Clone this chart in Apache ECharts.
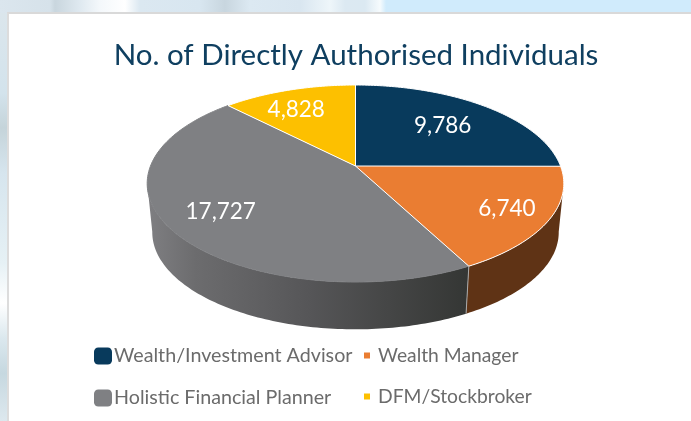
<!DOCTYPE html>
<html>
<head>
<meta charset="utf-8">
<script src="https://cdn.jsdelivr.net/npm/echarts@6/dist/echarts.min.js"></script>
<style>
    html, body { margin: 0; padding: 0; width: 691px; height: 421px; overflow: hidden; }
    #stripTop {
        position: absolute; left: 0; top: 0; width: 691px; height: 13px;
        background: linear-gradient(90deg, #dbe6ee 0, #d6e2ea 50px, #c9d6de 55px, #dfe9f0 80px, #f4f8fb 100px, #ffffff 125px, #dbe8f1 140px,
            #d8e6f0 200px, #c8d6df 225px, #dce9f2 250px, #d9e6f0 300px, #eef6fa 330px, #dce9f2 345px, #dbe9f2 365px, #f6fbfd 380px, #d0ebfc 386px, #d0ebfc 691px);
    }
    #stripLeft {
        position: absolute; left: 0; top: 13px; width: 8px; height: 408px;
        background: linear-gradient(180deg, #dbe6ec 0, #d3e3ec 80px, #c5d4da 115px, #d6e5ee 160px, #e6f1f5 250px, #ffffff 290px, #dbe8ee 325px, #c6d8e0 360px, #dde8ee 408px);
    }
    #card { position: absolute; left: 7px; top: 12px; width: 684px; height: 409px; background: #fff; border-left: 2px solid #dcdcdc; border-top: 2px solid #d9d9d9; box-sizing: border-box; }
    #main { position: absolute; left: 0; top: 0; width: 691px; height: 421px; }
</style>
</head>
<body>
<div id="stripTop"></div>
<div id="stripLeft"></div>
<div id="card"></div>
<div id="main"></div>
<script type="text/javascript">
    var chartTitle = 'No. of Directly Authorised Individuals';
    var categories = ['Wealth/Investment Advisor', 'Wealth Manager', 'Holistic Financial Planner', 'DFM/Stockbroker'];
    var values = [9786, 6740, 17727, 4828];
    var valueLabels = ['9,786', '6,740', '17,727', '4,828'];

    var colors = ['#083a5c', '#ea7d32', '#7f8083', '#fdc000'];
    var rimColors = ['#fff', '#fff', '#7f8083', '#fff'];
    // label placement: fraction of the radius, and degrees off the slice's middle
    var labelRadius = [0.65, 0.8, 0.75, 0.73];
    var labelTurn = [0, 0, 0, -4];

    var fontName = 'Lato, "Open Sans", sans-serif';

    // the tilted disc: apex of the slices, half sizes and perspective strength
    var topRim = { cx: 355.5, cy: 166, a: 205, b: 95.4 };
    var bottomRim = { cx: 355.5, cy: 215, a: 200, b: 94 };
    var persp = 0.1777;
    // the rim turns away from the viewer past these angles
    var wallStart = 100;
    var wallEnd = 260;

    var total = values.reduce(function (s, v) { return s + v; }, 0);
    var starts = [];
    var sum = 0;
    values.forEach(function (v) {
        starts.push(sum / total * 360);
        sum += v;
    });

    // degrees clockwise from 12 o'clock, r as a fraction of the radius
    function project(disc, deg, r) {
        var rad = deg * Math.PI / 180;
        var u = Math.sin(rad) * r;
        var v = -Math.cos(rad) * r;
        var w = 1 - persp * v;
        return [disc.cx + disc.a * u / w, disc.cy + disc.b * v / w];
    }

    function arc(disc, from, to) {
        var pts = [];
        var n = Math.max(2, Math.ceil(to - from));
        for (var i = 0; i <= n; i++) {
            pts.push(project(disc, from + (to - from) * i / n, 1));
        }
        return pts;
    }

    var sideFills = [
        null,
        '#5f3315',
        new echarts.graphic.LinearGradient(0, 0, 1, 0, [
            { offset: 0, color: '#7f7f82' },
            { offset: 0.15, color: '#6c6c6e' },
            { offset: 0.5, color: '#565658' },
            { offset: 1, color: '#343634' }
        ]),
        null
    ];

    function renderSlice(params, api) {
        var i = params.seriesIndex;
        var from = starts[i];
        var to = from + api.value(0) / total * 360;
        var children = [];

        var wallFrom = Math.max(from, wallStart);
        var wallTo = Math.min(to, wallEnd);
        if (wallTo > wallFrom) {
            children.push({
                type: 'polygon',
                z2: 1,
                shape: { points: arc(topRim, wallFrom, wallTo).concat(arc(bottomRim, wallFrom, wallTo).reverse()) },
                style: { fill: sideFills[i] }
            });
            if (wallFrom > wallStart) {
                var p1 = project(topRim, wallFrom, 1);
                var p2 = project(bottomRim, wallFrom, 1);
                children.push({
                    type: 'line',
                    z2: 2,
                    shape: { x1: p1[0], y1: p1[1], x2: p2[0], y2: p2[1] },
                    style: { stroke: '#a9a9a9', lineWidth: 1 }
                });
            }
        }

        var rim = arc(topRim, from, to);
        children.push({
            type: 'polygon',
            z2: 3,
            shape: { points: [[topRim.cx, topRim.cy]].concat(rim) },
            style: { fill: colors[i] }
        });
        children.push({
            type: 'polyline',
            z2: 4,
            shape: { points: rim },
            style: { fill: null, stroke: rimColors[i], lineWidth: 1 }
        });
        // white spoke between this slice and the one before it
        children.push({
            type: 'line',
            z2: 5,
            shape: { x1: topRim.cx, y1: topRim.cy, x2: rim[0][0], y2: rim[0][1] },
            style: { stroke: '#fff', lineWidth: 1 }
        });

        var at = project(topRim, (from + to) / 2 + labelTurn[i], labelRadius[i]);
        children.push({
            type: 'text',
            z2: 6,
            x: at[0],
            y: at[1],
            style: {
                text: valueLabels[i],
                fill: '#fff',
                font: '22.5px ' + fontName,
                align: 'center',
                verticalAlign: 'middle'
            }
        });

        return { type: 'group', children: children };
    }

    var myChart = echarts.init(document.getElementById('main'));
    myChart.setOption({
        animation: false,
        backgroundColor: 'transparent',
        title: {
            text: chartTitle,
            left: 351,
            top: 35,
            textAlign: 'center',
            textStyle: { color: '#0f3f60', fontFamily: fontName, fontSize: 29.5, fontWeight: 'normal' }
        },
        legend: [{
            left: 94,
            top: 346,
            orient: 'vertical',
            icon: 'roundRect',
            itemWidth: 18,
            itemHeight: 17,
            itemGap: 22,
            padding: 0,
            data: [categories[0], categories[2]],
            textStyle: { color: '#6b6b6b', fontFamily: fontName, fontSize: 19.7, padding: [0, 0, 0, -3] }
        }, {
            left: 364,
            top: 346,
            orient: 'vertical',
            icon: 'rect',
            itemWidth: 6,
            itemHeight: 6,
            itemGap: 22,
            padding: 0,
            data: [categories[1], categories[3]],
            textStyle: { color: '#6b6b6b', fontFamily: fontName, fontSize: 19.3, padding: [0, 0, 0, 3] }
        }],
        series: categories.map(function (name, i) {
            return {
                name: name,
                type: 'custom',
                coordinateSystem: 'none',
                itemStyle: { color: colors[i] },
                renderItem: renderSlice,
                data: [values[i]]
            };
        })
    });
</script>
</body>
</html>
